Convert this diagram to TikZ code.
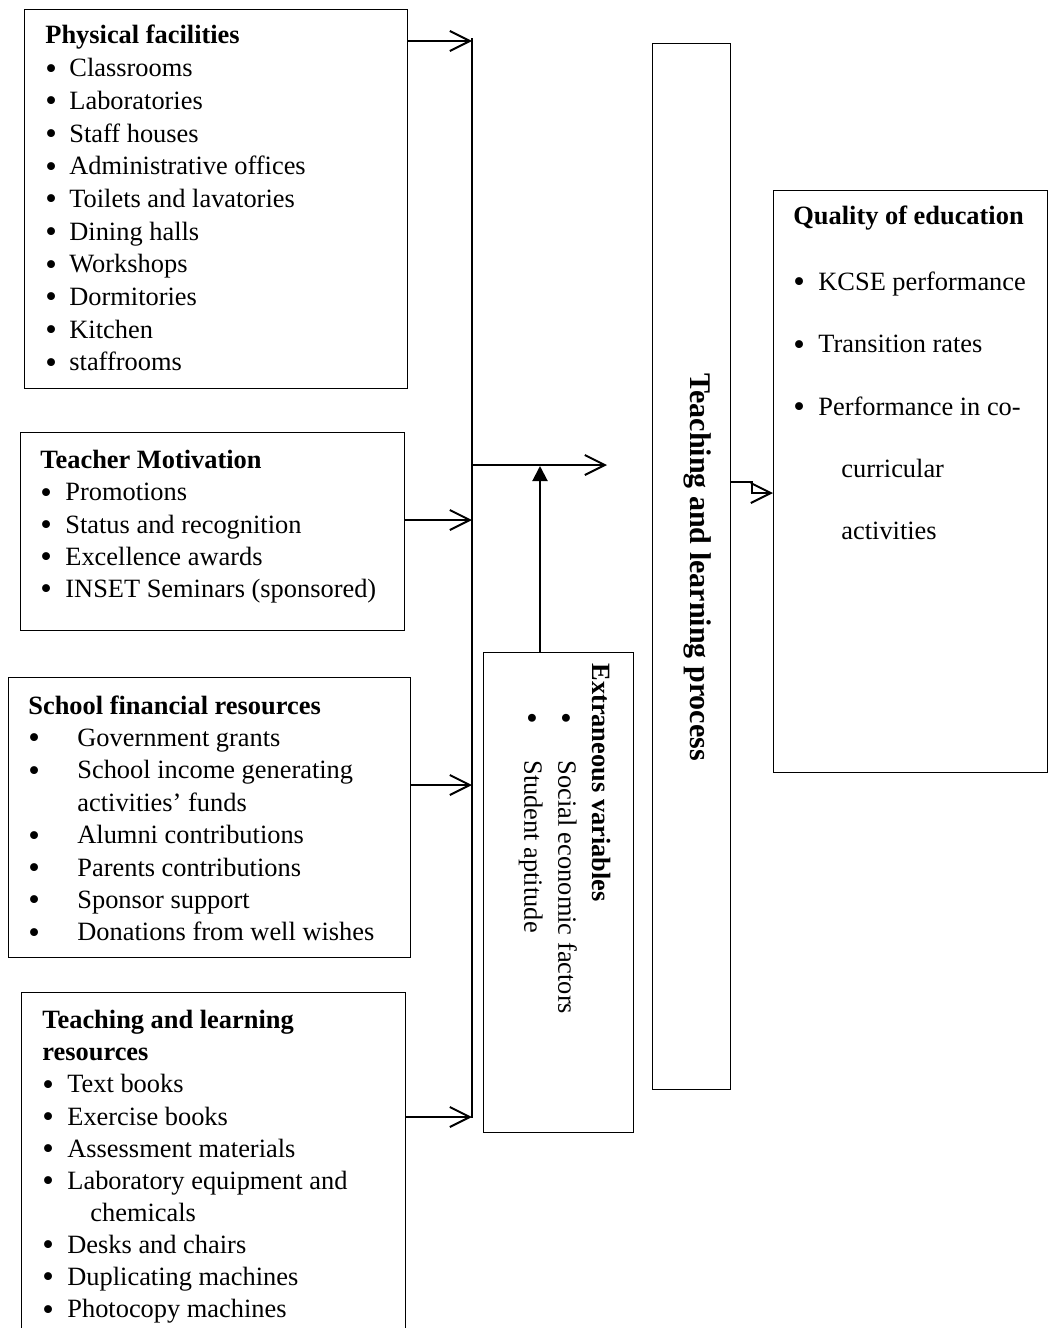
\documentclass[tikz,border=0pt]{standalone}
\usepackage{fontspec}
\setmainfont{Liberation Serif}
\usetikzlibrary{arrows.meta}
\tikzstyle{box} = [draw, line width=0.65pt, anchor=north west, inner sep=0]
\tikzstyle{txt} = [anchor=north west, align=left, inner sep=0, font=\fontsize{13.2}{16.2}\selectfont]
\tikzstyle{arr} = [line width=1pt, -{Straight Barb[length=10pt,width=10pt]}]
\tikzstyle{tri} = [line width=1pt, -{Triangle[length=7.5pt,width=7.5pt]}]
\newcommand{\bul}[2][12pt]{\makebox[#1][l]{\raisebox{-1.2pt}{\scalebox{1.25}{\textbullet}}}#2}

\begin{document}
\begin{tikzpicture}[x=0.5pt,y=-0.5pt]
  \useasboundingbox (0,0) rectangle (1048,1328);
  % boxes
  \node (phys) at (24,9) [box, minimum width=191.5pt, minimum height=189.5pt] {};
  \node (motiv) at (20,432) [box, minimum width=192pt, minimum height=99pt] {};
  \node (fin) at (8,677) [box, minimum width=201pt, minimum height=140pt] {};
  \node (tlr) at (21,992) [box, minimum width=192pt, minimum height=174pt] {};
  \node (extr) at (483,652) [box, minimum width=75pt, minimum height=240pt] {};
  \node (tlp) at (652,43) [box, minimum width=39pt, minimum height=523pt] {};
  \node (qual) at (773,190) [box, minimum width=137pt, minimum height=291pt] {};
  % texts
  \node (physT) at (45,25) [txt, font=\fontsize{13.2}{16.35}\selectfont] {\textbf{Physical facilities}\\
    \bul{Classrooms}\\ \bul{Laboratories}\\ \bul{Staff houses}\\
    \bul{Administrative offices}\\ \bul{Toilets and lavatories}\\
    \bul{Dining halls}\\ \bul{Workshops}\\ \bul{Dormitories}\\
    \bul{Kitchen}\\ \bul{staffrooms}};
  \node (motivT) at (40,450) [txt, font=\fontsize{13.2}{16.1}\selectfont] {\textbf{Teacher Motivation}\\
    \bul[12.5pt]{Promotions}\\ \bul[12.5pt]{Status and recognition}\\
    \bul[12.5pt]{Excellence awards}\\ \bul[12.5pt]{INSET Seminars (sponsored)}};
  \node (finT) at (28,695) [txt] {\textbf{School financial resources}\\
    \bul[24.5pt]{Government grants}\\
    \bul[24.5pt]{School income generating}\\ \hspace*{24.5pt}activities' funds\\
    \bul[24.5pt]{Alumni contributions}\\ \bul[24.5pt]{Parents contributions}\\
    \bul[24.5pt]{Sponsor support}\\ \bul[24.5pt]{Donations from well wishes}};
  \node (tlrT) at (42,1010) [txt, font=\fontsize{13.2}{16.05}\selectfont] {\textbf{Teaching and learning}\\
    \textbf{resources}\\
    \bul[12.5pt]{Text books}\\ \bul[12.5pt]{Exercise books}\\
    \bul[12.5pt]{Assessment materials}\\ \bul[12.5pt]{Laboratory equipment and}\\
    \hspace*{24pt}chemicals\\
    \bul[12.5pt]{Desks and chairs}\\ \bul[12.5pt]{Duplicating machines}\\
    \bul[12.5pt]{Photocopy machines}};
  \node (qualT) at (793,206) [txt, font=\fontsize{13.2}{31.2}\selectfont] {\textbf{Quality of education}\\[1.5pt]
    \bul[12.5pt]{KCSE performance}\\ \bul[12.5pt]{Transition rates}\\
    \bul[12.5pt]{Performance in co-}\\ \hspace*{24pt}curricular\\
    \hspace*{24pt}activities};
  \node (extrT) at (611,663) [txt, rotate=-90, font=\fontsize{13.2}{17}\selectfont] {\textbf{Extraneous variables}\\
    \hspace*{24.3pt}\bul[24.2pt]{Social economic factors}\\
    \hspace*{24.3pt}\bul[24.2pt]{Student aptitude}};
  \node (tlpT) at (712,567) [txt, anchor=north, rotate=-90, font=\fontsize{15}{18}\selectfont] {\textbf{Teaching and learning process}};
  % connectors
  \coordinate (bT) at (472,38);
  \coordinate (bB) at (472,1118);
  \coordinate (b1) at (472,41);
  \coordinate (b2) at (472,520);
  \coordinate (b3) at (472,785);
  \coordinate (b4) at (472,1117);
  \coordinate (m1) at (472,465);
  \coordinate (m2) at (607,465);
  \coordinate (up) at (540,466);
  \coordinate (q1) at (731,482);
  \coordinate (q2) at (772,493);
  \draw [line width=1pt] (bT) -- (bB);
  \draw [arr] (phys.east |- b1) -- (b1);
  \draw [arr] (motiv.east |- b2) -- (b2);
  \draw [arr] (fin.east |- b3) -- (b3);
  \draw [arr] (tlr.east |- b4) -- (b4);
  \draw [arr] (m1) -- (m2);
  \draw [tri] (extr.north -| up) -- (up);
  \draw [arr] (tlp.east |- q1) -- ++(21,0) -- ++(0,11) -- (qual.west |- q2);
\end{tikzpicture}
\end{document}
